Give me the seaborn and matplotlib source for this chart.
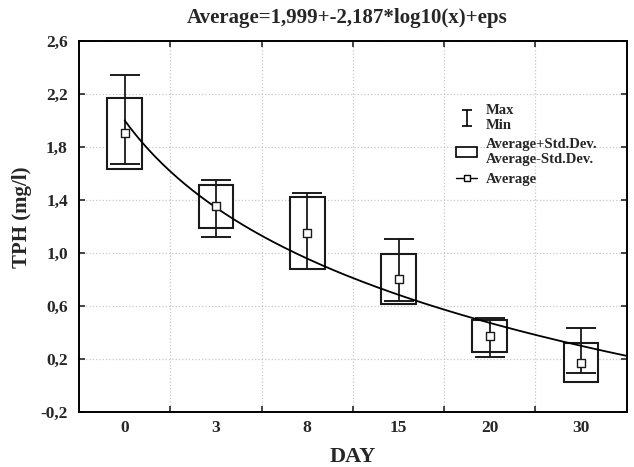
import numpy as np
import matplotlib
matplotlib.use('Agg')
import matplotlib.pyplot as plt
import seaborn as sns
from matplotlib.path import Path
from matplotlib.lines import Line2D
from matplotlib.patches import Patch

# data
days = ['0', '3', '8', '15', '20', '30']
avg = [1.90, 1.35, 1.15, 0.80, 0.37, 0.17]
std = [0.265, 0.16, 0.27, 0.19, 0.12, 0.147]
vmax = [2.34, 1.55, 1.45, 1.10, 0.51, 0.43]
vmin = [1.67, 1.12, 0.875, 0.635, 0.215, 0.094]

# fitted curve coefficients from the title
fit_a = 1.999
fit_b = -2.187

sns.set_style('ticks')
plt.rcParams['font.family'] = ['Liberation Serif', 'DejaVu Serif']
plt.rcParams['font.weight'] = 'bold'

pos = np.arange(1, len(days) + 1)
avg = np.array(avg)
std = np.array(std)
vmax = np.array(vmax)
vmin = np.array(vmin)

fig = plt.figure(figsize=(6.34, 4.67), dpi=100)
ax = fig.add_axes([0.1246, 0.1184, 0.864, 0.7944])

# grid
ax.set_axisbelow(True)
yt = np.arange(-0.2, 2.61, 0.4)
ax.set_yticks(yt)
ax.set_yticklabels([f'{v:.1f}'.replace('.', ',') for v in yt])
ax.set_xticks(pos)
ax.set_xticklabels(days)
ax.set_xticks(pos[:-1] + 0.5, minor=True)
ax.grid(axis='y', which='major', color='#c8c8c8', linestyle=':', linewidth=0.9)
ax.grid(axis='x', which='minor', color='#c8c8c8', linestyle=':', linewidth=0.9)

# std boxes
ax.bar(pos, 2 * std, bottom=avg - std, width=0.38, color='white',
       edgecolor='#1a1a1a', linewidth=1.5, zorder=2)

# min/max whiskers
ax.errorbar(pos, (vmax + vmin) / 2, yerr=(vmax - vmin) / 2, fmt='none',
            ecolor='#1a1a1a', elinewidth=1.3, capsize=11, capthick=1.4, zorder=3)

# fitted curve
xs = np.linspace(1, 6.5, 200)
sns.lineplot(x=xs, y=fit_a + fit_b * np.log10(xs), ax=ax, color='black',
             linewidth=1.3, zorder=4)

# averages
sns.scatterplot(x=pos, y=avg, ax=ax, marker='s', s=38, color='white',
                edgecolor='#1a1a1a', linewidth=1.0, zorder=5)

ax.set_xlim(0.5, 6.5)
ax.set_ylim(-0.2, 2.6)

for s in ax.spines.values():
    s.set_visible(True)
    s.set_linewidth(1.4)
    s.set_color('black')

ax.tick_params(axis='x', which='major', length=0, labelsize=12.5, pad=6)
ax.tick_params(axis='x', which='minor', direction='in', length=4, width=1.2,
               top=True, bottom=True)
ax.tick_params(axis='y', which='major', direction='in', length=4, width=1.2,
               left=True, right=True, labelsize=12.5, pad=8)

ax.set_title('Average=1,999+-2,187*log10(x)+eps', fontsize=15, fontweight='bold',
             pad=13, x=0.49)
ax.set_xlabel('DAY', fontsize=16, fontweight='bold', labelpad=8)
ax.set_ylabel('TPH (mg/l)', fontsize=15, fontweight='bold')
ax.yaxis.set_label_coords(-0.085, 0.525)

# legend
ibeam = Path([(-0.6, 1), (0.6, 1), (0, 1), (0, -1), (-0.6, -1), (0.6, -1)],
             [Path.MOVETO, Path.LINETO, Path.MOVETO, Path.LINETO, Path.MOVETO, Path.LINETO])
handles = [
    Line2D([], [], linestyle='none', marker=ibeam, markersize=12,
           markeredgecolor='black', markeredgewidth=1.2),
    Patch(facecolor='white', edgecolor='black', linewidth=1.2),
    Line2D([], [], color='black', linewidth=1.0, marker='s', markersize=5,
           markerfacecolor='white', markeredgecolor='black'),
]
labels = ['Max\nMin', 'Average+Std.Dev.\nAverage-Std.Dev.', 'Average']
ax.legend(handles, labels, loc='upper left', bbox_to_anchor=(0.665, 0.865),
          frameon=False, handlelength=1.4, handletextpad=0.6,
          labelspacing=0.45, prop={'weight': 'bold', 'size': 10.5})

fig.savefig('out.png', dpi=100)
